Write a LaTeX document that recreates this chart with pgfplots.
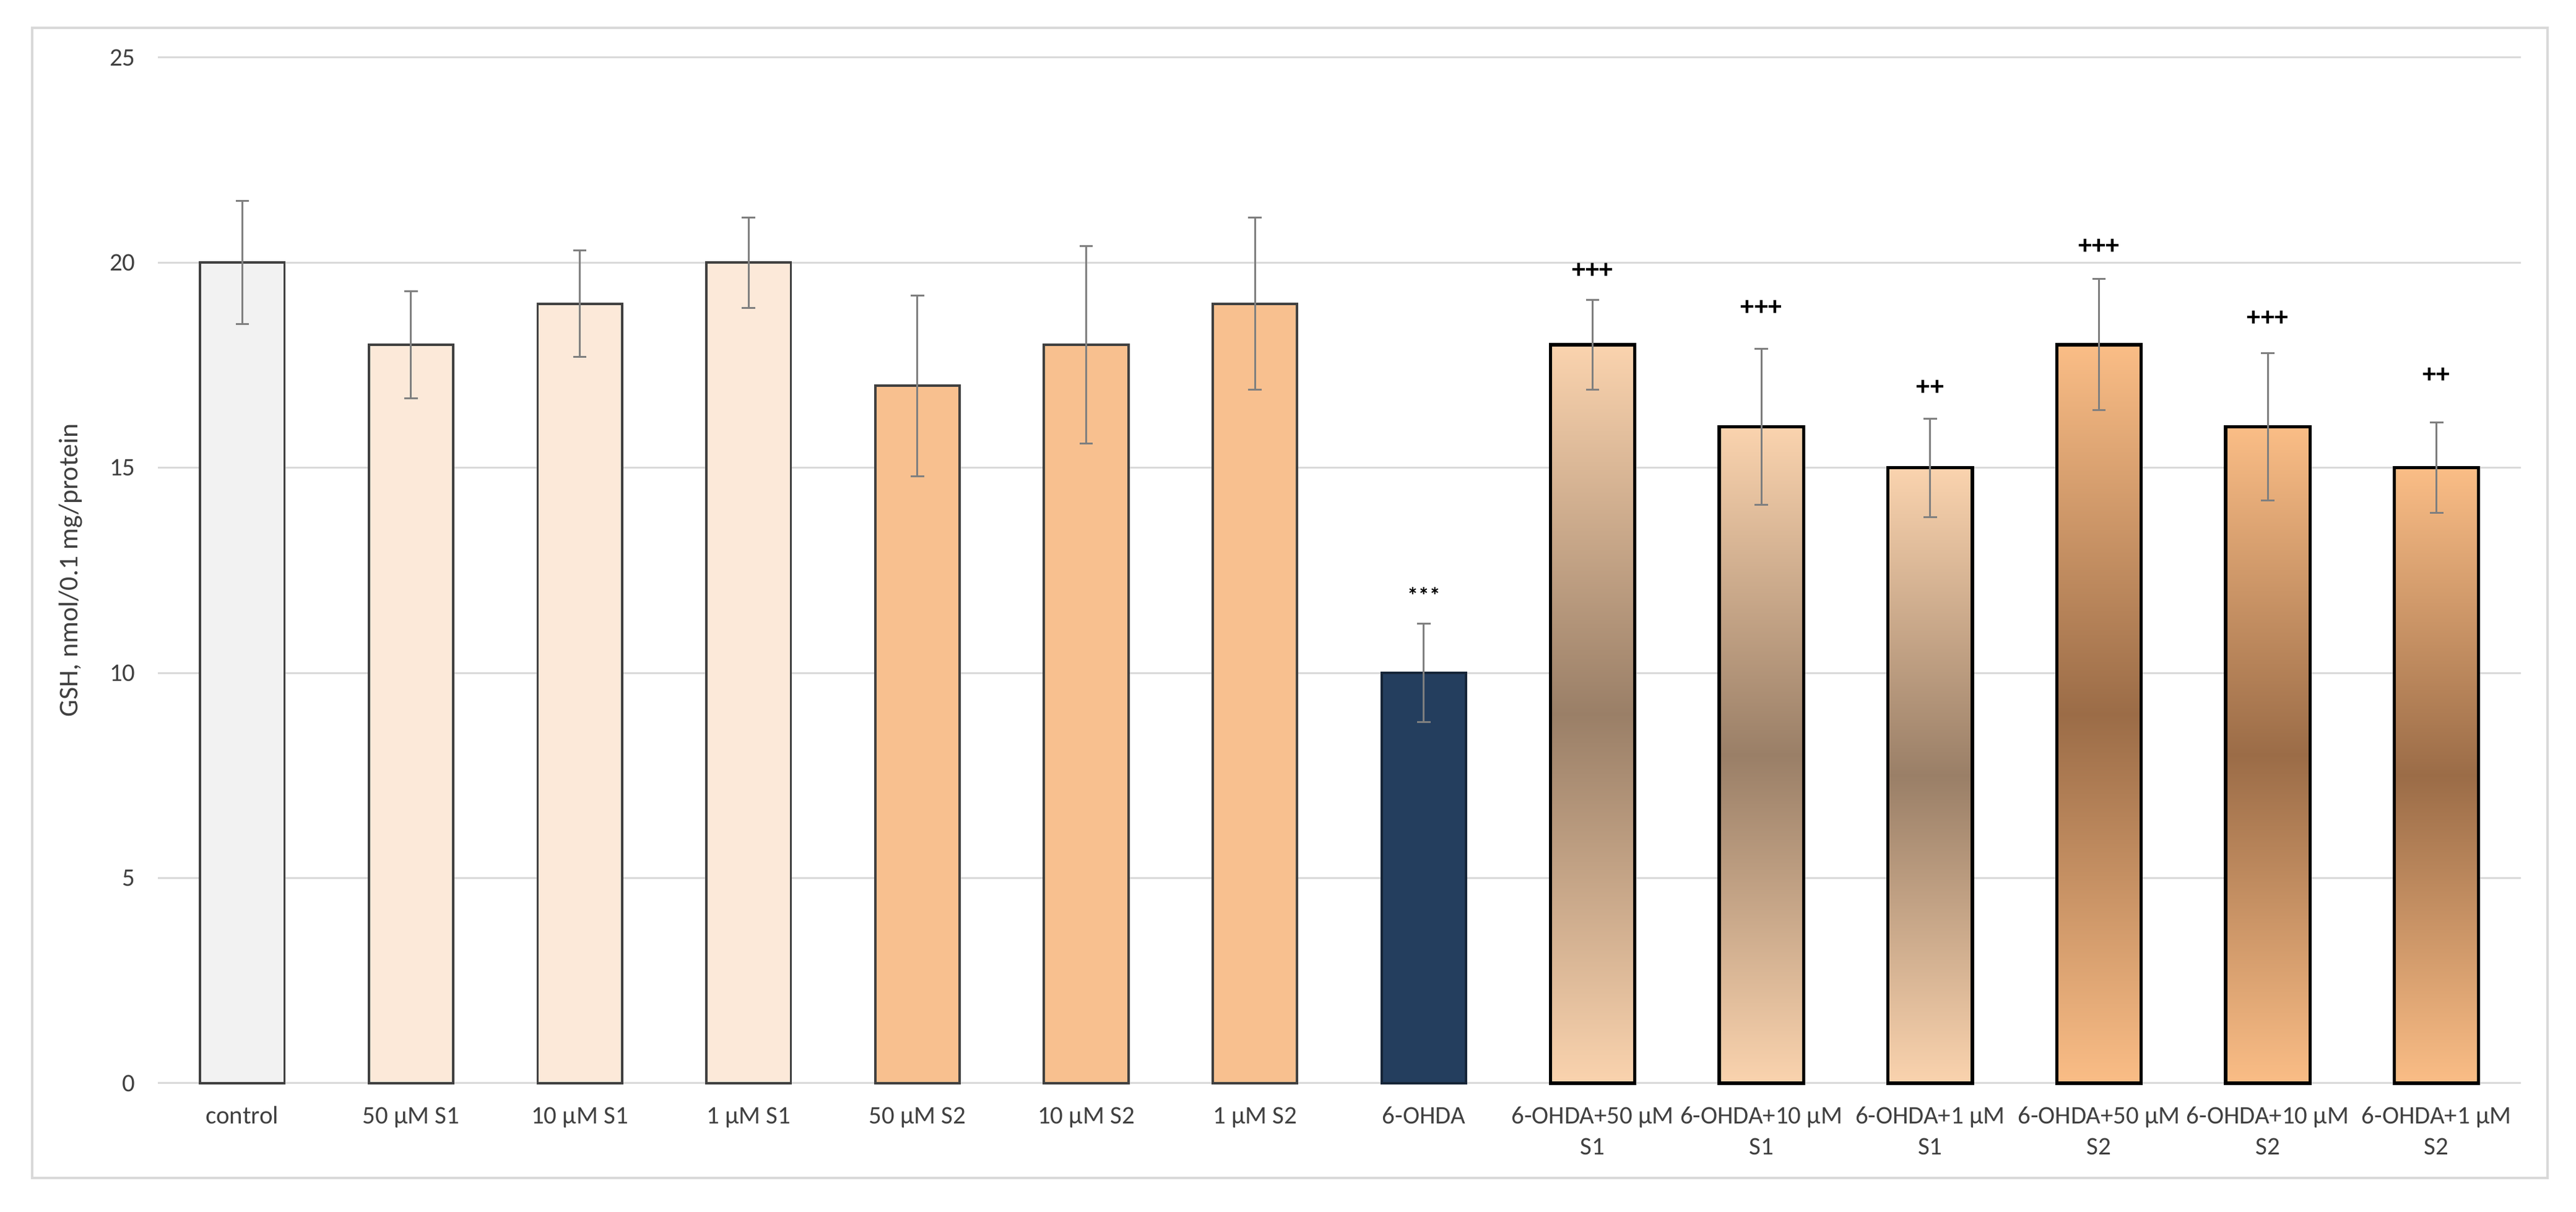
\documentclass[border=0pt]{standalone}
\usepackage{fontspec}
\setmainfont{Carlito}
\usepackage{pgfplots}
\pgfplotsset{compat=1.18}
\definecolor{ctrl}{HTML}{F2F2F2}
\definecolor{sone}{HTML}{FCE9D9}
\definecolor{stwo}{HTML}{F8C08F}
\definecolor{navy}{HTML}{243E5E}
\definecolor{gOneEnd}{HTML}{FAD3AE}
\definecolor{gOneMid}{HTML}{9A7F67}
\definecolor{gTwoEnd}{HTML}{FABD86}
\definecolor{gTwoMid}{HTML}{9B6C47}
\definecolor{errgray}{HTML}{7F7F7F}
\definecolor{gridgray}{HTML}{D9D9D9}
\definecolor{txt}{HTML}{404040}
\definecolor{bord}{HTML}{404040}
\pgfplotsset{
  plainbar/.style={ybar, bar width=0.5, bar shift=0pt, draw=bord, line width=0.95bp},
  gradbar/.style 2 args={ybar, bar width=0.5, bar shift=0pt, draw=black, line width=1.3bp,
     top color=#1, bottom color=#1, middle color=#2},
}
\begin{document}
\begin{tikzpicture}
\useasboundingbox (0,0) rectangle (1040.25bp,489.5bp);
\draw[gridgray, line width=0.9bp] (13bp,13.75bp) rectangle (1028.75bp,478.25bp);
\begin{axis}[
  at={(63.75bp,52bp)}, anchor=south west,
  scale only axis, width=954.25bp, height=414.25bp,
  xmin=-0.5, xmax=13.5, ymin=0, ymax=25,
  ytick={0,5,...,25},
  xtick={0,...,13},
  xticklabels={{\strut control},{\strut 50 µM S1},{\strut 10 µM S1},{\strut 1 µM S1},
    {\strut 50 µM S2},{\strut 10 µM S2},{\strut 1 µM S2},{\strut 6-OHDA},
    {\strut 6-OHDA+50 µM\\S1},{\strut 6-OHDA+10 µM\\S1},{\strut 6-OHDA+1 µM\\S1},
    {\strut 6-OHDA+50 µM\\S2},{\strut 6-OHDA+10 µM\\S2},{\strut 6-OHDA+1 µM\\S2}},
  ymajorgrids, grid style={gridgray, line width=0.75bp},
  axis line style={draw=none},
  major tick length=0pt,
  tick style={draw=none},
  /pgf/number format/assume math mode=true,
  yticklabel style={font=\fontsize{10.25}{12}\selectfont, text=txt, xshift=-5.6bp},
  xticklabel style={font=\fontsize{10.25}{12.5}\selectfont, text=txt, align=center, yshift=-4.1bp},
  ylabel={GSH, nmol/0.1 mg/protein},
  every axis y label/.style={at={(axis description cs:-0.037,0.5)}, rotate=90, anchor=center,
     font=\fontsize{11}{13}\selectfont, text=txt},
  clip=false,
]
\addplot[plainbar, fill=ctrl] coordinates {(0,20)};
\addplot[plainbar, fill=sone] coordinates {(1,18) (2,19) (3,20)};
\addplot[plainbar, fill=stwo] coordinates {(4,17) (5,18) (6,19)};
\addplot[plainbar, fill=navy, draw=navy!60!black] coordinates {(7,10)};
\addplot[gradbar={gOneEnd}{gOneMid}] coordinates {(8,18)};
\addplot[gradbar={gOneEnd}{gOneMid}] coordinates {(9,16)};
\addplot[gradbar={gOneEnd}{gOneMid}] coordinates {(10,15)};
\addplot[gradbar={gTwoEnd}{gTwoMid}] coordinates {(11,18)};
\addplot[gradbar={gTwoEnd}{gTwoMid}] coordinates {(12,16)};
\addplot[gradbar={gTwoEnd}{gTwoMid}] coordinates {(13,15)};
% error bars
\addplot[draw=none, mark=none,
  error bars/.cd, y dir=both, y explicit,
  error bar style={draw=errgray, line width=0.75bp},
  error mark options={draw=errgray, line width=0.75bp, mark size=2.7bp, rotate=90}]
  coordinates {
  (0,20) +- (0,1.5)
  (1,18) +- (0,1.3)
  (2,19) +- (0,1.3)
  (3,20) +- (0,1.1)
  (4,17) +- (0,2.2)
  (5,18) +- (0,2.4)
  (6,19) +- (0,2.1)
  (7,10) +- (0,1.2)
  (8,18) +- (0,1.1)
  (9,16) +- (0,1.9)
  (10,15) +- (0,1.2)
  (11,18) +- (0,1.6)
  (12,16) +- (0,1.8)
  (13,15) +- (0,1.1)
  };
% significance marks
\addplot[draw=none, mark=none, nodes near coords, point meta=explicit symbolic,
  nodes near coords style={anchor=center, font=\bfseries\fontsize{9}{9}\selectfont, text=black}]
  coordinates {(7,11.9) [***]};
\addplot[draw=none, mark=none, nodes near coords, point meta=explicit symbolic,
  nodes near coords style={anchor=center, font=\bfseries\fontsize{11}{11}\selectfont, text=black}]
  coordinates {(8,19.8) [+++] (9,18.9) [+++] (10,16.95) [++] (11,20.4) [+++] (12,18.65) [+++] (13,17.25) [++]};
\end{axis}
\end{tikzpicture}
\end{document}
